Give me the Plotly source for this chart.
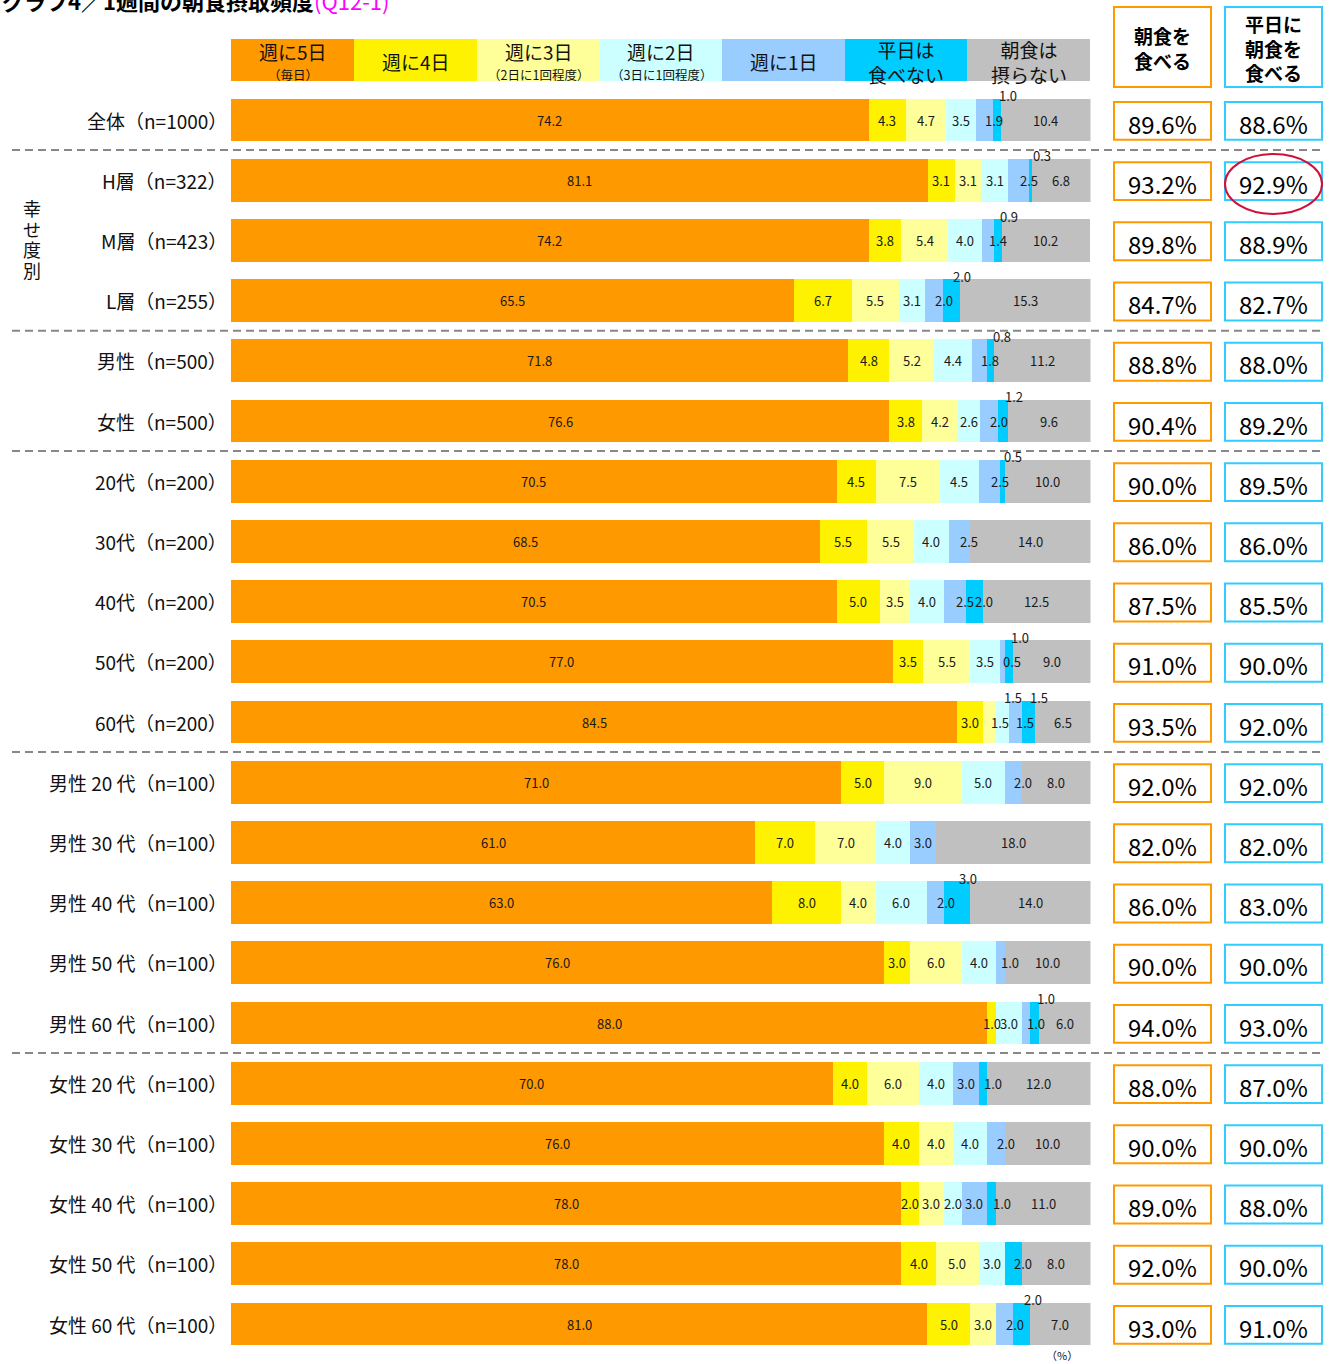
import plotly.graph_objects as go

# ---------------- data ----------------
categories = [
    "全体（n=1000）", "H層（n=322）", "M層（n=423）", "L層（n=255）",
    "男性（n=500）", "女性（n=500）",
    "20代（n=200）", "30代（n=200）", "40代（n=200）", "50代（n=200）", "60代（n=200）",
    "男性 20 代（n=100）", "男性 30 代（n=100）", "男性 40 代（n=100）", "男性 50 代（n=100）", "男性 60 代（n=100）",
    "女性 20 代（n=100）", "女性 30 代（n=100）", "女性 40 代（n=100）", "女性 50 代（n=100）", "女性 60 代（n=100）",
]
series_names = ["週に5日（毎日）", "週に4日", "週に3日（2日に1回程度）", "週に2日（3日に1回程度）",
                "週に1日", "平日は食べない", "朝食は摂らない"]

days5 = [74.2, 81.1, 74.2, 65.5, 71.8, 76.6, 70.5, 68.5, 70.5, 77.0, 84.5,
         71.0, 61.0, 63.0, 76.0, 88.0, 70.0, 76.0, 78.0, 78.0, 81.0]
days4 = [4.3, 3.1, 3.8, 6.7, 4.8, 3.8, 4.5, 5.5, 5.0, 3.5, 3.0,
         5.0, 7.0, 8.0, 3.0, 1.0, 4.0, 4.0, 2.0, 4.0, 5.0]
days3 = [4.7, 3.1, 5.4, 5.5, 5.2, 4.2, 7.5, 5.5, 3.5, 5.5, 1.5,
         9.0, 7.0, 4.0, 6.0, 0.0, 6.0, 4.0, 3.0, 5.0, 3.0]
days2 = [3.5, 3.1, 4.0, 3.1, 4.4, 2.6, 4.5, 4.0, 4.0, 3.5, 1.5,
         5.0, 4.0, 6.0, 4.0, 3.0, 4.0, 4.0, 2.0, 3.0, 0.0]
days1 = [1.9, 2.5, 1.4, 2.0, 1.8, 2.0, 2.5, 2.5, 2.5, 0.5, 1.5,
         2.0, 3.0, 2.0, 1.0, 1.0, 3.0, 2.0, 3.0, 0.0, 2.0]
no_weekday = [1.0, 0.3, 0.9, 2.0, 0.8, 1.2, 0.5, 0.0, 2.0, 1.0, 1.5,
              0.0, 0.0, 3.0, 0.0, 1.0, 1.0, 0.0, 1.0, 2.0, 2.0]
never = [10.4, 6.8, 10.2, 15.3, 11.2, 9.6, 10.0, 14.0, 12.5, 9.0, 6.5,
         8.0, 18.0, 14.0, 10.0, 6.0, 12.0, 10.0, 11.0, 8.0, 7.0]

eat_breakfast = [89.6, 93.2, 89.8, 84.7, 88.8, 90.4, 90.0, 86.0, 87.5, 91.0, 93.5,
                 92.0, 82.0, 86.0, 90.0, 94.0, 88.0, 90.0, 89.0, 92.0, 93.0]
weekday_breakfast = [88.6, 92.9, 88.9, 82.7, 88.0, 89.2, 89.5, 86.0, 85.5, 90.0, 92.0,
                     92.0, 82.0, 83.0, 90.0, 93.0, 87.0, 90.0, 88.0, 90.0, 91.0]

series = [days5, days4, days3, days2, days1, no_weekday, never]

# ---------------- styles ----------------
colors = ["#FF9900", "#FFF200", "#FFFF99", "#CCFFFF", "#99CCFF", "#00CCFF", "#C0C0C0"]
legend_main = ["週に5日", "週に4日", "週に3日", "週に2日", "週に1日", "平日は<br>食べない", "朝食は<br>摂らない"]
legend_sub = ["（毎日）", "", "（2日に1回程度）", "（3日に1回程度）", "", "", ""]
group_chars = ["幸", "せ", "度", "別"]
# labels drawn above the bar: (row, segment)
above = {(0, 5), (1, 5), (2, 5), (3, 5), (4, 5), (5, 5), (6, 5), (9, 5),
         (10, 3), (10, 5), (13, 5), (15, 5), (20, 5)}

W, H = 1333, 1364
FONT = "Noto Sans CJK JP, Noto Sans, sans-serif"


def px(x):
    return x / W


def py(y):
    return 1 - y / H


row0, step = 120.0, 60.2
n = len(categories)
dom_top = row0 - step / 2
dom_bot = row0 + step * (n - 1) + step / 2

fig = go.Figure()
for name, vals, col in zip(series_names, series, colors):
    fig.add_trace(go.Bar(
        y=categories, x=vals, orientation="h", name=name,
        marker=dict(color=col, line=dict(width=0)), width=0.71,
        hoverinfo="x+name", showlegend=False))

annotations = []
shapes = []


def ann(**kw):
    d = dict(showarrow=False, xanchor="center", yanchor="middle")
    d.update(kw)
    annotations.append(d)


# segment labels
for i in range(n):
    cum = 0.0
    for j, vals in enumerate(series):
        v = vals[i]
        if v > 0:
            center = cum + v / 2
            if (i, j) in above:
                ann(x=center, y=i - 0.355, xref="x", yref="y", text=f"{v:.1f}",
                    xshift=11, yshift=3,
                    font=dict(size=13, color="#1a1a1a", family=FONT))
            else:
                if j >= 4 and v <= 2.5:
                    shift = 10
                elif j >= 2 and v < 2.0:
                    shift = 10
                else:
                    shift = 0
                ann(x=center, y=i, xref="x", yref="y", text=f"{v:.1f}",
                    xshift=shift,
                    font=dict(size=13, color="#1a1a1a", family=FONT))
        cum += v

# row labels
for i, c in enumerate(categories):
    ann(x=px(229), y=i, xref="paper", yref="y", text=c, xanchor="right",
        font=dict(size=19, color="#111", family=FONT))

# group label (vertical)
for k, ch in enumerate(group_chars):
    ann(x=px(32), y=py(208 + 20.7 * k), xref="paper", yref="paper", text=ch,
        font=dict(size=18, color="#111", family=FONT))

# right-hand boxes
for i in range(n):
    for (x0, x1, col, vals) in [(1114, 1211, "#FF9900", eat_breakfast),
                                 (1225, 1322, "#33CCFF", weekday_breakfast)]:
        shapes.append(dict(type="rect", xref="paper", yref="y",
                           x0=px(x0), x1=px(x1), y0=i - 0.30, y1=i + 0.33,
                           line=dict(color=col, width=2), fillcolor="white"))
        ann(x=px((x0 + x1) / 2), y=i + 0.05, xref="paper", yref="y",
            text=f"{vals[i]:.1f}%",
            font=dict(size=24, color="#000", family=FONT))

# highlight ellipse
shapes.append(dict(type="circle", xref="paper", yref="y",
                   x0=px(1225), x1=px(1322), y0=0.565, y1=1.56,
                   line=dict(color="#D0103A", width=2)))

# dashed separators
for b in [0.5, 3.5, 5.5, 10.5, 15.5]:
    shapes.append(dict(type="line", xref="paper", yref="y",
                       x0=px(12), x1=px(1322), y0=b, y1=b,
                       line=dict(color="#888888", width=2, dash="8px,5px")))

# header legend
edges = [231, 354, 477, 600, 722, 845, 967, 1090]
for k in range(7):
    shapes.append(dict(type="rect", xref="paper", yref="paper",
                       x0=px(edges[k]), x1=px(edges[k + 1]), y0=py(81), y1=py(39),
                       line=dict(width=0), fillcolor=colors[k], layer="below"))
    cx = px((edges[k] + edges[k + 1]) / 2)
    if legend_sub[k]:
        ann(x=cx, y=py(52), xref="paper", yref="paper", text=legend_main[k],
            font=dict(size=19, color="#111", family=FONT))
        ann(x=cx, y=py(75), xref="paper", yref="paper", text=legend_sub[k],
            font=dict(size=12.5, color="#111", family=FONT))
    else:
        ann(x=cx, y=py(62), xref="paper", yref="paper", text=legend_main[k],
            font=dict(size=19, color="#111", family=FONT))

# header boxes
shapes.append(dict(type="rect", xref="paper", yref="paper",
                   x0=px(1114), x1=px(1211), y0=py(87), y1=py(7),
                   line=dict(color="#FF9900", width=2)))
shapes.append(dict(type="rect", xref="paper", yref="paper",
                   x0=px(1225), x1=px(1322), y0=py(87), y1=py(7),
                   line=dict(color="#33CCFF", width=2)))
ann(x=px(1162), y=py(48), xref="paper", yref="paper",
    text="<b>朝食を<br>食べる</b>",
    font=dict(size=19, color="#000", family=FONT))
ann(x=px(1273), y=py(48), xref="paper", yref="paper",
    text="<b>平日に<br>朝食を<br>食べる</b>",
    font=dict(size=19, color="#000", family=FONT))

# title (cut at the top like the source)
ann(x=0, y=py(0), xref="paper", yref="paper", xanchor="left",
    text="<b>グラフ4／1週間の朝食摂取頻度</b><span style='color:#FF00FF'>(Q12-1)</span>",
    font=dict(size=22, color="#000", family=FONT))

# unit
ann(x=px(1062), y=py(1355), xref="paper", yref="paper", text="（%）",
    font=dict(size=11, color="#111", family=FONT))

fig.update_layout(
    width=W, height=H, margin=dict(l=0, r=0, t=0, b=0),
    paper_bgcolor="white", plot_bgcolor="white",
    barmode="stack", bargap=0.29,
    xaxis=dict(domain=[px(231), px(1090.5)], range=[0, 100], visible=False, fixedrange=True),
    yaxis=dict(domain=[py(dom_bot), py(dom_top)], type="category",
               categoryarray=categories, categoryorder="array",
               range=[n - 0.5, -0.5], visible=False, fixedrange=True),
    annotations=annotations, shapes=shapes,
    font=dict(family=FONT),
)

fig.write_html("out.html", config={"displayModeBar": False},
               post_script="document.body.style.margin='0';document.body.style.overflow='hidden';")
